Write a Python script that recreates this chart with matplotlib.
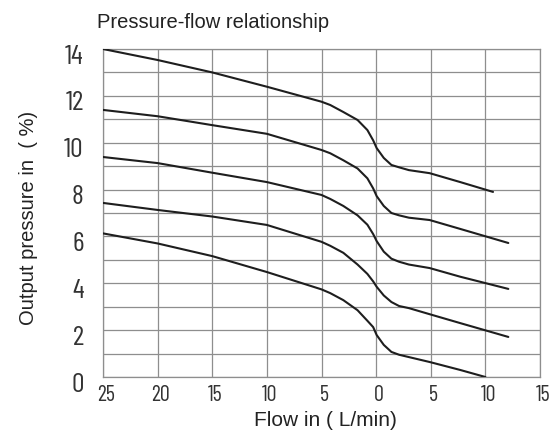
import matplotlib
matplotlib.use("Agg")
import matplotlib.pyplot as plt
from matplotlib.transforms import ScaledTranslation
import numpy as np

# flow: negative = left half of the chart (labels shown as absolute values)
flow_1 = [-25, -20, -15, -10, -5, -4.2, -3, -1.7, -0.8, -0.27, 0.05, 0.7, 1.4, 2.1, 3, 4.9, 7.7, 10.7]
pressure_1 = [14.0, 13.53, 13.0, 12.39, 11.75, 11.61, 11.31, 10.97, 10.54, 10.1, 9.77, 9.35, 9.05, 8.95, 8.83, 8.7, 8.32, 7.9]

flow_2 = [-25, -20, -15, -10, -5, -4.2, -3, -1.7, -0.8, -0.27, 0.05, 0.7, 1.4, 2.1, 3, 4.9, 7.7, 12.1]
pressure_2 = [11.4, 11.13, 10.75, 10.38, 9.69, 9.55, 9.25, 8.9, 8.48, 8.05, 7.72, 7.3, 7.0, 6.9, 6.8, 6.7, 6.32, 5.72]

flow_3 = [-25, -20, -15, -10, -5, -4.2, -3, -1.7, -0.8, -0.27, 0.05, 0.7, 1.4, 2.1, 3, 4.9, 7.7, 12.1]
pressure_3 = [9.39, 9.13, 8.72, 8.32, 7.77, 7.6, 7.3, 6.9, 6.5, 6.1, 5.8, 5.35, 5.05, 4.92, 4.8, 4.65, 4.28, 3.76]

flow_4 = [-25, -20, -15, -10, -5, -4.2, -3, -1.7, -0.8, -0.27, 0.05, 0.7, 1.4, 2.1, 3, 4.9, 7.7, 12.1]
pressure_4 = [7.43, 7.13, 6.85, 6.49, 5.77, 5.6, 5.3, 4.8, 4.4, 4.08, 3.85, 3.48, 3.2, 3.03, 2.94, 2.68, 2.3, 1.71]

flow_5 = [-25, -20, -15, -10, -5, -4.2, -3, -1.7, -0.8, -0.27, 0.05, 0.7, 1.4, 2.1, 3, 4.9, 7.7, 10]
pressure_5 = [6.13, 5.7, 5.16, 4.48, 3.74, 3.58, 3.28, 2.85, 2.4, 2.13, 1.79, 1.37, 1.07, 0.95, 0.85, 0.64, 0.3, 0.0]

x_ticks = [-25, -20, -15, -10, -5, 0, 5, 10, 15]
x_tick_labels = [str(abs(v)) for v in x_ticks]
y_ticks = [0, 2, 4, 6, 8, 10, 12, 14]

curves = [
    (flow_1, pressure_1),
    (flow_2, pressure_2),
    (flow_3, pressure_3),
    (flow_4, pressure_4),
    (flow_5, pressure_5),
]


def main() -> None:
    fig = plt.figure(figsize=(5.56, 4.41), dpi=100)
    ax = fig.add_axes([103 / 556, 1 - 377 / 441, 437 / 556, 328 / 441])

    grid_color = "#8e8e8e"
    for flow, pressure in curves:
        ax.plot(flow, pressure, color="#1e1e1e", lw=1.5, zorder=3,
                solid_joinstyle="round", solid_capstyle="round")

    ax.set_xlim(-25, 15)
    ax.set_ylim(0, 14)
    ax.set_xticks(x_ticks)
    ax.set_xticklabels(x_tick_labels)
    ax.set_yticks(y_ticks)
    ax.set_yticks(np.arange(1, 14, 2), minor=True)
    ax.grid(True, which="both", color=grid_color, lw=0.9)
    ax.set_axisbelow(True)
    for spine in ax.spines.values():
        spine.set_color(grid_color)
        spine.set_linewidth(0.9)

    tick_font = ["Barlow Condensed", "DejaVu Sans"]
    ax.tick_params(axis="both", which="both", length=0)
    ax.tick_params(axis="y", pad=14)
    ax.tick_params(axis="x", pad=6)
    for label in ax.get_yticklabels():
        label.set_family(tick_font)
        label.set_fontsize(20)
        label.set_color("#333333")
        label.set_transform(label.get_transform() + ScaledTranslation(0, -0.05, fig.dpi_scale_trans))
    for label in ax.get_xticklabels():
        label.set_family(tick_font)
        label.set_fontsize(16)
        label.set_color("#333333")
        label.set_transform(label.get_transform() + ScaledTranslation(0.03, 0, fig.dpi_scale_trans))

    text_font = ["Liberation Sans", "DejaVu Sans"]
    fig.text(97 / 556, 1 - 22 / 441, "Pressure-flow relationship", family=text_font,
             fontsize=14.5, color="#222222", va="center", ha="left")
    fig.text(325 / 556, 1 - 420 / 441, "Flow in ( L/min)", family=text_font,
             fontsize=15, color="#222222", va="center", ha="center")
    fig.text(29 / 556, 1 - 218 / 441, "Output pressure in  ( %)", family=text_font,
             fontsize=14.5, color="#222222", va="center", ha="center", rotation=90)

    fig.savefig("out.png", dpi=100)


if __name__ == "__main__":
    main()
